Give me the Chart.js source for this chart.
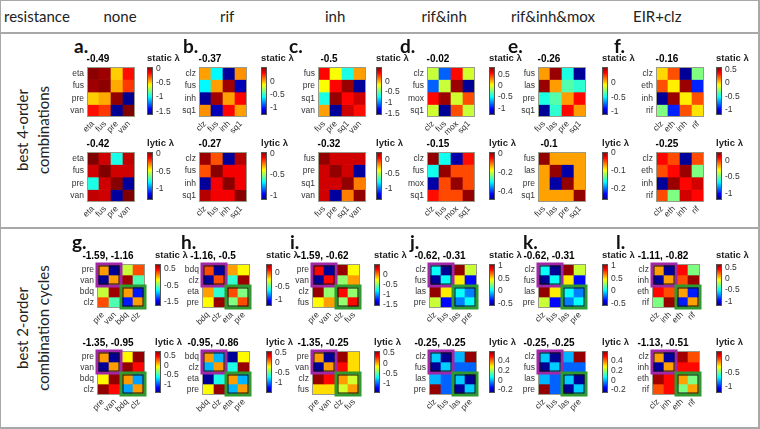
<!DOCTYPE html>
<html><head><meta charset="utf-8">
<script src="https://cdn.jsdelivr.net/npm/chart.js@4.4.1/dist/chart.umd.min.js"></script>
<style>
body{margin:0;width:760px;height:429px;overflow:hidden;background:#fff;position:relative;font-family:Lato,"Open Sans",sans-serif;color:#222}
canvas{position:absolute}
.t{position:absolute;white-space:nowrap}
.hdr{font-size:15px;top:6px;line-height:20px}
.let{font-size:19px;font-weight:bold;line-height:20px;color:#111}
.rl{font-size:15px;line-height:21px;text-align:center;width:200px;height:42px;transform:rotate(-90deg)}
.line{position:absolute;background:#a8a8a8}
</style></head><body>
<script>
// ---------- data ----------
const resistanceGroups = ['none','rif','inh','rif&inh','rif&inh&mox','EIR+clz'];
const panelLetters = ['a','b','c','d','e','f','g','h','i','j','k','l'];
const rowTitles = [['best 4-order','combinations'],['best 2-order','combination cycles']];

const drugsA = ['eta','fus','pre','van'];
const staticA = [[0.03,0.0,-0.5,-0.18],[0.0,0.03,-0.44,-0.25],[-0.5,-0.44,0.02,-1.6],[-0.18,-0.25,-1.6,0.05]];
const lyticA = [[0.06,-0.05,-0.78,-0.03],[-0.05,0.06,-0.05,-0.05],[-0.78,-0.05,0.05,-1.3],[-0.03,-0.05,-1.3,0.06]];
const drugsB = ['clz','fus','inh','sq1'];
const staticB = [[0.05,-0.6,-1.25,0.08],[-0.6,0.05,0.52,-1.2],[-1.25,0.52,0.05,0.34],[0.08,-1.2,0.34,0.05]];
const lyticB = [[0.0,-0.2,-1.07,-0.03],[-0.2,0.02,-0.1,-0.1],[-1.07,-0.1,0.02,-0.1],[-0.03,-0.1,-0.1,0.02]];
const drugsC = ['fus','pre','sq1','van'];
const staticC = [[0.4,-0.17,-0.67,0.05],[-0.17,0.4,0.64,-1.52],[-0.67,0.64,0.4,0.52],[0.05,-1.52,0.52,0.38]];
const lyticC = [[0.22,0.12,0.12,0.12],[0.12,0.22,0.12,-1.35],[0.12,0.12,0.22,-0.16],[0.12,-1.35,-0.16,0.22]];
const drugsD = ['clz','fus','mox','sq1'];
const staticD = [[-0.08,-0.83,0.56,-0.06],[-0.83,-0.08,0.78,-1.25],[0.56,0.78,-0.06,0.41],[-0.06,-1.25,0.41,-0.08]];
const lyticD = [[0.01,-0.29,-0.47,-0.05],[-0.29,0.01,-0.08,-0.08],[-0.47,-0.08,0.01,-0.08],[-0.05,-0.08,-0.08,0.01]];
const drugsE = ['fus','las','pre','sq1'];
const staticE = [[0.07,0.48,-0.45,-1.06],[0.48,0.07,-0.36,-0.42],[-0.45,-0.36,0.07,0.31],[-1.06,-0.42,0.31,0.07]];
const lyticE = [[0.0,-0.07,-0.07,-0.07],[-0.07,0.0,-0.25,-0.07],[-0.07,-0.25,0.0,-0.07],[-0.07,-0.07,-0.07,0.0]];
const drugsF = ['clz','eth','inh','rif'];
const staticF = [[0.0,0.24,-1.14,-0.29],[0.24,-0.04,0.55,-0.9],[-1.14,0.55,-0.04,0.24],[-0.29,-0.9,0.24,-0.02]];
const lyticF = [[0.08,-0.02,-1.16,-0.02],[-0.02,0.08,0.23,-0.47],[-1.16,0.23,0.08,0.15],[-0.02,-0.47,0.15,0.08]];
const drugsG = ['pre','van','bdq','clz'];
const staticG = [[0.09,-1.7,-0.3,0.29],[-1.7,0.09,0.72,-0.6],[-0.3,0.72,0.09,-1.37],[0.29,-0.6,-1.37,0.09]];
const lyticG = [[0.13,-1.35,-0.06,0.68],[-1.35,0.13,0.68,0.44],[-0.06,0.68,0.13,-0.8],[0.68,0.44,-0.8,0.13]];
const drugsH = ['bdq','clz','eta','pre'];
const staticH = [[0.03,-1.18,-0.1,-0.24],[-1.18,0.03,-0.56,0.3],[-0.1,-0.56,0.03,-0.44],[-0.24,0.3,-0.44,0.03]];
const lyticH = [[0.0,-0.9,-1.5,-0.2],[-0.9,0.0,-0.69,0.55],[-1.5,-0.69,0.0,-0.9],[-0.2,0.55,-0.9,0.0]];
const drugsI = ['pre','van','clz','fus'];
const staticI = [[0.28,-1.5,0.5,-0.23],[-1.5,0.28,-0.46,-0.04],[0.5,-0.46,0.28,-0.46],[-0.23,-0.04,-0.46,0.28]];
const lyticI = [[0.03,-1.4,0.55,-0.1],[-1.4,0.03,0.33,-0.1],[0.55,0.33,0.03,-0.26],[-0.1,-0.1,-0.26,0.03]];
const drugsJ = ['clz','fus','las','pre'];
const staticJ = [[0.04,-0.57,1.05,0.36],[-0.57,0.04,0.48,-0.38],[1.05,0.48,0.04,-0.18],[0.36,-0.38,-0.18,0.04]];
const lyticJ = [[0.02,-0.24,0.0,0.58],[-0.24,0.02,-0.07,-0.07],[0.0,-0.07,0.02,-0.24],[0.58,-0.07,-0.24,0.02]];
const drugsK = ['clz','fus','las','pre'];
const staticK = [[0.04,-0.57,1.05,0.36],[-0.57,0.04,0.48,-0.38],[1.05,0.48,0.04,-0.18],[0.36,-0.38,-0.18,0.04]];
const lyticK = [[0.02,-0.24,0.0,0.58],[-0.24,0.02,-0.07,-0.07],[0.0,-0.07,0.02,-0.24],[0.58,-0.07,-0.24,0.02]];
const drugsL = ['clz','inh','eth','rif'];
const staticL = [[0.13,-1.15,0.41,-0.28],[-1.15,0.13,0.28,0.6],[0.41,0.28,0.13,-0.92],[-0.28,0.6,-0.92,0.13]];
const lyticL = [[-0.16,-1.15,0.2,-0.04],[-1.15,-0.16,0.06,0.06],[0.2,0.06,-0.16,-0.48],[-0.04,0.06,-0.48,-0.16]];

const titlesStatic = ['-0.49','-0.37','-0.5','-0.02','-0.26','-0.16','-1.59, -1.16','-1.16, -0.5','-1.59, -0.62','-0.62, -0.31','-0.62, -0.31','-1.11, -0.82'];
const titlesLytic = ['-0.42','-0.27','-0.32','-0.15','-0.1','-0.25','-1.35, -0.95','-0.95, -0.86','-1.35, -0.25','-0.25, -0.25','-0.25, -0.25','-1.13, -0.51'];
const scaleStatic = [[-1.63,0.05],[-1.3,0.58],[-1.58,0.69],[-1.3,0.84],[-1.1,0.52],[-1.18,0.6],[-1.75,0.8],[-1.22,0.34],[-1.55,0.55],[-0.6,1.08],[-0.6,1.08],[-1.2,0.65]];
const scaleLytic = [[-1.34,0.06],[-1.1,0.03],[-1.4,0.25],[-0.49,0.02],[-0.26,0.005],[-1.2,0.27],[-1.4,0.72],[-1.55,0.6],[-1.45,0.6],[-0.26,0.6],[-0.26,0.6],[-1.2,0.25]];
const ticksStatic = [[0,-0.5,-1,-1.5],[0,-0.5,-1],[0,-0.5,-1,-1.5],[0.5,0,-0.5,-1],[0,-0.5,-1],[0.5,0,-0.5,-1],[0.5,0,-0.5,-1,-1.5],[0,-0.5,-1],[0,-0.5,-1,-1.5],[1,0.5,0,-0.5],[1,0.5,0,-0.5],[0.5,0,-0.5,-1]];
const ticksLytic = [[0,-0.5,-1],[0,-0.5,-1],[0,-0.5,-1],[0,-0.2,-0.4],[0,-0.1,-0.2],[0,-0.5,-1],[0.5,0,-0.5,-1],[0.5,0,-0.5,-1],[0.5,0,-0.5,-1],[0.4,0.2,0,-0.2],[0.4,0.2,0,-0.2],[0,-0.5,-1]];

const drugs = [drugsA,drugsB,drugsC,drugsD,drugsE,drugsF,drugsG,drugsH,drugsI,drugsJ,drugsK,drugsL];
const staticVals = [staticA,staticB,staticC,staticD,staticE,staticF,staticG,staticH,staticI,staticJ,staticK,staticL];
const lyticVals = [lyticA,lyticB,lyticC,lyticD,lyticE,lyticF,lyticG,lyticH,lyticI,lyticJ,lyticK,lyticL];

// ---------- layout (positions only) ----------
const heatLeft = [87,199,318,427,538,656, 97,202,312,429,538,652];
const barLeft  = [147,261,376,489,602,716, 155,266,374,489,602,716];
const letterLeft = [74,183,289,400,508,614, 72,181,290,410,523,616];
const HW = 48;
const rowGeom = [ {sy:67, sh:50, ly:152, lh:50, letY:36}, {sy:264, sh:44, ly:351, lh:44, letY:232} ];
const headerCenters = [120,227,335,444,553,657];
const YW = 26, TH = 13, XH = 23, CW = 30;

Chart.defaults.font.family = '"Liberation Sans", Arial, sans-serif';
Chart.defaults.animation = false;

function jet(t){
  t = Math.max(0, Math.min(1, t));
  const c = x => Math.round(255*Math.max(0, Math.min(1, x)));
  return `rgb(${c(1.5-Math.abs(4*t-3))},${c(1.5-Math.abs(4*t-2))},${c(1.5-Math.abs(4*t-1))})`;
}
function addCanvas(l, t, w, h){
  const cv = document.createElement('canvas');
  cv.width = w; cv.height = h;
  cv.style.left = l+'px'; cv.style.top = t+'px'; cv.style.width = w+'px'; cv.style.height = h+'px';
  document.body.appendChild(cv);
  return cv;
}
function framePlugin(color, boxes){
  return {id:'frame', afterDraw(chart){
    const a = chart.chartArea, c = chart.ctx;
    c.save();
    c.strokeStyle = color; c.lineWidth = 1;
    c.strokeRect(Math.round(a.left)+0.5, Math.round(a.top)+0.5, Math.round(a.right-a.left)-1, Math.round(a.bottom-a.top)-1);
    if (boxes){
      const xs = chart.scales.x, ys = chart.scales.y;
      const cw = (xs.right - xs.left)/4;
      boxes.forEach(b => {
        const x0 = xs.getPixelForValue(b.c0) - cw/2, x1 = xs.getPixelForValue(b.c1) + cw/2;
        const y0 = ys.getPixelForValue(b.r0 - 0.5), y1 = ys.getPixelForValue(b.r1 + 0.5);
        c.lineWidth = 3; c.strokeStyle = b.color;
        c.strokeRect(x0, y0, x1-x0, y1-y0);
        c.lineWidth = 1; c.strokeStyle = '#111';
        c.strokeRect(x0+2, y0+2, x1-x0-4, y1-y0-4);
      });
    }
    c.restore();
  }};
}
function heatmap(x, y, h, rows, vals, range, title, boxes){
  const W = YW*2 + HW, H = TH + h + XH;
  const cv = addCanvas(x - YW, y - TH, W, H);
  const datasets = rows.map((r, ri) => ({
    label: r,
    data: rows.map(() => [ri - 0.5, ri + 0.5]),
    backgroundColor: vals[ri].map(v => jet((v - range[0])/(range[1] - range[0]))),
    borderWidth: 0, barPercentage: 1, categoryPercentage: 1, grouped: false
  }));
  new Chart(cv, {
    type: 'bar',
    data: {labels: rows, datasets},
    options: {
      responsive: false, devicePixelRatio: 1,
      layout: {padding: {left:0, right:YW, top:0, bottom:0}, autoPadding: false},
      plugins: {
        legend: {display:false}, tooltip: {enabled:false},
        title: {display:true, text:title, color:'#000', font:{size:10, weight:'bold', lineHeight:1}, padding:{top:0, bottom:3}}
      },
      scales: {
        x: {type:'category', offset:true, grid:{display:false, drawTicks:false}, border:{display:false},
            ticks:{maxRotation:45, minRotation:45, autoSkip:false, font:{size:8.5}, color:'#333', padding:2},
            afterFit(s){ s.height = XH; }},
        y: {type:'linear', min:-0.5, max:3.5, reverse:true, grid:{display:false, drawTicks:false}, border:{display:false},
            afterBuildTicks(s){ s.ticks = rows.map((_, i) => ({value:i})); },
            ticks:{callback:v => rows[v], font:{size:8.5}, color:'#333', padding:3},
            afterFit(s){ s.width = YW; }}
      }
    },
    plugins: [framePlugin('#9a9a8a', boxes)]
  });
}
function colorbar(x, y, h, range, ticks, label){
  const W = 3 + 6 + CW, H = TH + h + 6;
  const cv = addCanvas(x - 3, y - TH, W, H);
  new Chart(cv, {
    type: 'bar',
    data: {labels: [''], datasets: [{
      data: [[range[0], range[1]]],
      backgroundColor: ctx => {
        const a = ctx.chart.chartArea; if (!a) return '#888';
        const g = ctx.chart.ctx.createLinearGradient(0, a.bottom, 0, a.top);
        for (let i = 0; i <= 32; i++) g.addColorStop(i/32, jet(i/32));
        return g;
      },
      borderWidth: 0, barPercentage: 1, categoryPercentage: 1
    }]},
    options: {
      responsive: false, devicePixelRatio: 1,
      layout: {padding: {left:3, right:0, top:0, bottom:6}, autoPadding: false},
      plugins: {
        legend: {display:false}, tooltip: {enabled:false},
        title: {display:true, text:label, align:'start', color:'#222', font:{size:9.5, lineHeight:1}, padding:{top:0, bottom:3.5}}
      },
      scales: {
        x: {display:false, offset:true},
        y: {position:'right', min:range[0], max:range[1], grid:{display:false, drawTicks:false}, border:{display:false},
            afterBuildTicks(s){ s.ticks = ticks.map(v => ({value:v})); },
            ticks:{callback:v => String(v), font:{size:8.5}, color:'#333', padding:3},
            afterFit(s){ s.width = CW; }}
      }
    },
    plugins: [framePlugin('#555', null)]
  });
}
function addText(cls, txt, l, t){
  const d = document.createElement('div');
  d.className = 't ' + cls; d.textContent = txt;
  d.style.left = l + 'px'; d.style.top = t + 'px';
  document.body.appendChild(d); return d;
}

// table lines
[[0,0,760,1],[0,32,760,2],[0,227,760,2],[0,427,760,2],[0,0,1,429],[758,0,2,429]].forEach(r => {
  const d = document.createElement('div'); d.className = 'line';
  Object.assign(d.style, {left:r[0]+'px', top:r[1]+'px', width:r[2]+'px', height:r[3]+'px'});
  document.body.appendChild(d);
});
// header
addText('hdr', 'resistance', 4, 6);
resistanceGroups.forEach((g, i) => {
  const d = addText('hdr', g, 0, 6);
  d.style.left = (headerCenters[i] - d.offsetWidth/2) + 'px';
});
// row titles
[130, 328].forEach((cy, i) => {
  const d = document.createElement('div'); d.className = 't rl';
  d.innerHTML = rowTitles[i][0] + '<br>' + rowTitles[i][1];
  d.style.left = (33 - 100) + 'px'; d.style.top = (cy - 21) + 'px';
  document.body.appendChild(d);
});
// panels
for (let p = 0; p < 12; p++){
  const g = rowGeom[p < 6 ? 0 : 1];
  addText('let', panelLetters[p] + '.', letterLeft[p], g.letY);
  const boxes = p < 6 ? null : [{r0:0,r1:1,c0:0,c1:1,color:'#a126a8'},{r0:2,r1:3,c0:2,c1:3,color:'#2f9a2f'}];
  heatmap(heatLeft[p], g.sy, g.sh, drugs[p], staticVals[p], scaleStatic[p], titlesStatic[p], boxes);
  heatmap(heatLeft[p], g.ly, g.lh, drugs[p], lyticVals[p], scaleLytic[p], titlesLytic[p], boxes);
  colorbar(barLeft[p], g.sy, g.sh, scaleStatic[p], ticksStatic[p], 'static λ');
  colorbar(barLeft[p], g.ly, g.lh, scaleLytic[p], ticksLytic[p], 'lytic λ');
}
</script>
</body></html>
